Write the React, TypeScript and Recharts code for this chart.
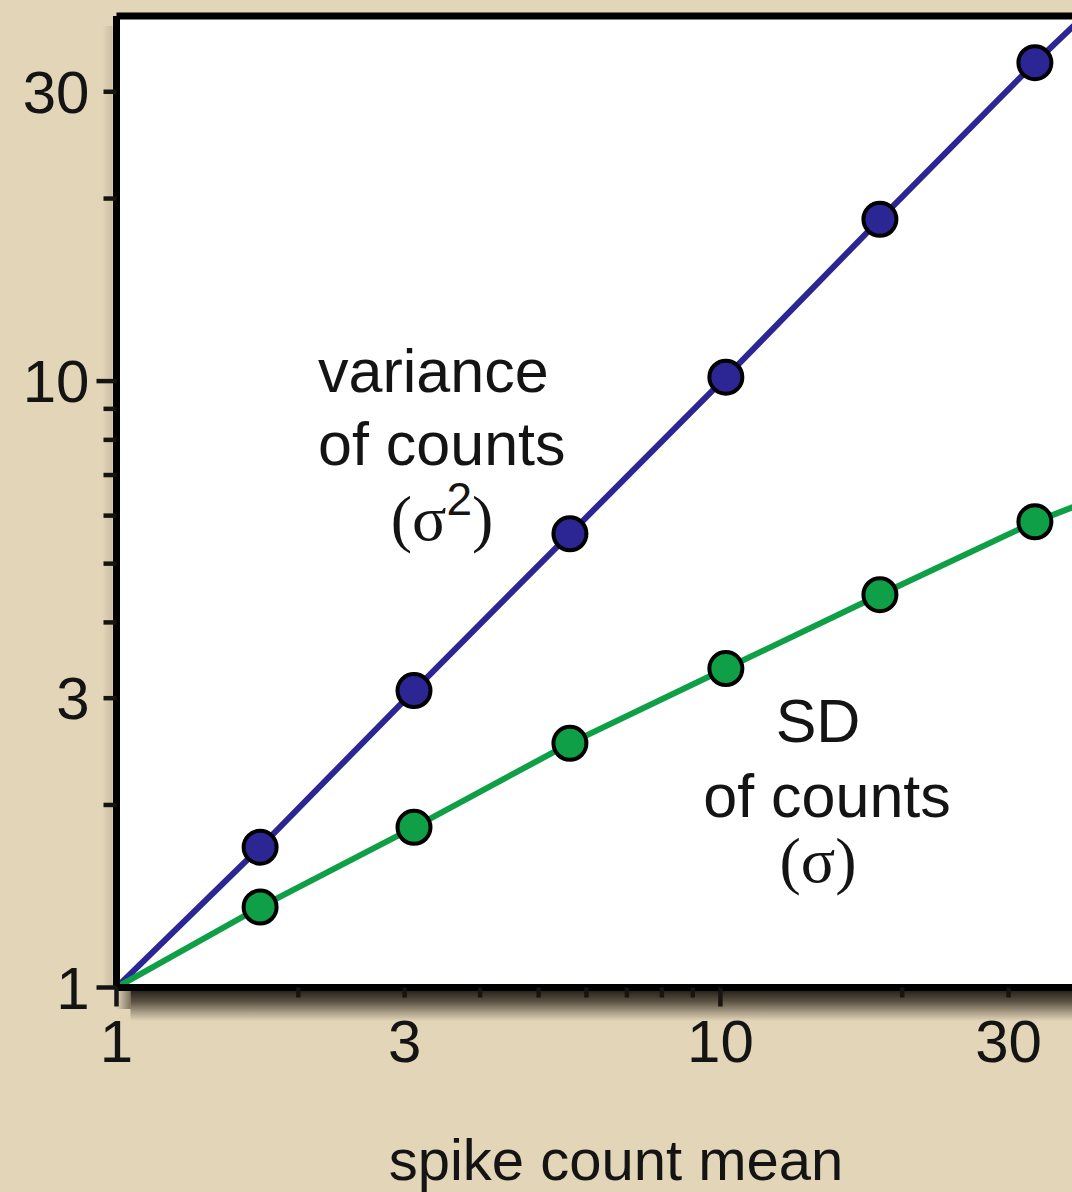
import React from 'react';
import { ComposedChart, Line, XAxis, YAxis, ReferenceArea, ReferenceLine } from 'recharts';

// ---- data (log-log axes) ----
const spikeMeans = [1.729, 3.109, 5.634, 10.21, 18.37, 33.17];
const varianceOfCounts = [1.703, 3.088, 5.6, 10.15, 18.48, 33.5];
const sdOfCounts = [1.357, 1.837, 2.527, 3.357, 4.444, 5.86];
// line anchors (lines start at the origin corner and run off the right edge)
const lineStart = { x: 1, variance: 1, sd: 1 };
const lineEnd = { x: 40, variance: 40, sd: 6.3 };

const xTicks = [1, 2, 3, 4, 5, 6, 7, 8, 9, 10, 20, 30];
const yTicks = [1, 2, 3, 4, 5, 6, 7, 8, 9, 10, 20, 30];
const labeledTicks = [1, 3, 10, 30];
const decadeTicks = [1, 10];
const xDomain = [1, 40];
const yDomain = [1, 40];

const data = [
  { ...lineStart, measured: false },
  ...spikeMeans.map((x, i) => ({ x, variance: varianceOfCounts[i], sd: sdOfCounts[i], measured: true })),
  { ...lineEnd, measured: false },
];

const SANS = '"Liberation Sans", Arial, Helvetica, sans-serif';
const SERIF = '"Liberation Serif", "Times New Roman", serif';
const INK = '#141414';
const BLUE = '#2b2694';
const GREEN = '#0e9f47';
const BG = '#e3d5b8';

const CHART_W = 1100;
const CHART_H = 1192;
const MARGIN = { top: 16, right: 16, bottom: 104.5, left: 16.5 };
const Y_AXIS_W = 100;
const X_AXIS_H = 100;

const YTick = (props: any) => {
  const { x, y, payload } = props;
  const v = payload.value;
  const len = decadeTicks.includes(v) ? 20 : 13;
  return (
    <g>
      <line x1={x} x2={x - len} y1={y} y2={y} stroke={INK} strokeWidth={4.5} />
      {labeledTicks.includes(v) && (
        <text x={x - 27} y={y + 21} textAnchor="end" fontSize={60} fontFamily={SANS} fill={INK}>
          {v}
        </text>
      )}
    </g>
  );
};

const XTick = (props: any) => {
  const { x, y, payload } = props;
  const v = payload.value;
  const len = decadeTicks.includes(v) ? 19 : 10;
  return (
    <g>
      <line x1={x} x2={x} y1={y} y2={y + len} stroke={INK} strokeWidth={4.5} />
      {labeledTicks.includes(v) && (
        <text x={x} y={y + 74} textAnchor="middle" fontSize={60} fontFamily={SANS} fill={INK}>
          {v}
        </text>
      )}
    </g>
  );
};

const makeDot = (fill: string) => (p: any) => {
  if (!p.payload || !p.payload.measured) return <g key={`d-${p.index}`} />;
  return (
    <circle key={`d-${p.index}`} cx={p.cx} cy={p.cy} r={16.5} fill={fill} stroke="#000" strokeWidth={4} />
  );
};

export default function App() {
  const plotLeft = MARGIN.left + Y_AXIS_W;
  const plotTop = MARGIN.top;
  const plotW = CHART_W - plotLeft - MARGIN.right;
  const plotH = CHART_H - MARGIN.top - MARGIN.bottom - X_AXIS_H;
  const plotBottom = plotTop + plotH;
  return (
    <div style={{ width: 1072, height: 1192, overflow: 'hidden', position: 'relative', background: BG }}>
      <style>{'body{margin:0}'}</style>
      <ComposedChart width={CHART_W} height={CHART_H} data={data} margin={MARGIN}>
        <ReferenceArea
          x1={xDomain[0]}
          x2={xDomain[1]}
          y1={yDomain[0]}
          y2={yDomain[1]}
          fill="#ffffff"
          fillOpacity={1}
          stroke="none"
        />
        <ReferenceLine y={yDomain[1]} stroke="#000" strokeWidth={7} />
        <XAxis
          dataKey="x"
          type="number"
          scale="log"
          domain={xDomain}
          ticks={xTicks}
          interval={0}
          allowDataOverflow
          height={X_AXIS_H}
          tickSize={0}
          tickMargin={0}
          tick={<XTick />}
          tickLine={false}
          axisLine={{ stroke: '#000', strokeWidth: 7 }}
        />
        <YAxis
          type="number"
          scale="log"
          domain={yDomain}
          ticks={yTicks}
          interval={0}
          allowDataOverflow
          width={Y_AXIS_W}
          tickSize={0}
          tickMargin={0}
          tick={<YTick />}
          tickLine={false}
          axisLine={{ stroke: '#000', strokeWidth: 7 }}
        />
        <Line
          dataKey="variance"
          type="linear"
          stroke={BLUE}
          strokeWidth={6}
          dot={makeDot(BLUE)}
          activeDot={false}
          isAnimationActive={false}
        />
        <Line
          dataKey="sd"
          type="linear"
          stroke={GREEN}
          strokeWidth={6}
          dot={makeDot(GREEN)}
          activeDot={false}
          isAnimationActive={false}
        />
      </ComposedChart>
      <svg
        width={1072}
        height={1192}
        style={{ position: 'absolute', left: 0, top: 0, pointerEvents: 'none' }}
      >
        <defs>
          <linearGradient id="shadowDown" x1="0" y1="0" x2="0" y2="1">
            <stop offset="0%" stopColor="#1a140c" stopOpacity={0.92} />
            <stop offset="35%" stopColor="#1a140c" stopOpacity={0.68} />
            <stop offset="70%" stopColor="#1a140c" stopOpacity={0.3} />
            <stop offset="100%" stopColor="#1a140c" stopOpacity={0} />
          </linearGradient>
          <linearGradient id="shadowCorner" x1="0" y1="0" x2="1" y2="0">
            <stop offset="0%" stopColor="#1a140c" stopOpacity={0} />
            <stop offset="100%" stopColor="#1a140c" stopOpacity={0.5} />
          </linearGradient>
          <linearGradient id="shadowLeft" x1="1" y1="0" x2="0" y2="0">
            <stop offset="0%" stopColor="#1a140c" stopOpacity={0.12} />
            <stop offset="100%" stopColor="#1a140c" stopOpacity={0} />
          </linearGradient>
        </defs>
        {/* drop shadow of the plot box */}
        <rect x={plotLeft + 14} y={plotBottom + 3.5} width={plotW} height={30} fill="url(#shadowDown)" />
        <rect x={plotLeft} y={plotBottom + 3.5} width={14} height={18} fill="url(#shadowCorner)" />
        <rect x={plotLeft - 14} y={plotTop + 10} width={10} height={plotH - 10} fill="url(#shadowLeft)" />
        <g fill={INK} fontFamily={SANS}>
          <text x={318} y={392} fontSize={61}>variance</text>
          <text x={318} y={465} fontSize={61}>of counts</text>
          <text x={442} y={540} textAnchor="middle">
            <tspan fontFamily={SERIF} fontSize={64}>(σ</tspan>
            <tspan fontSize={46} dy={-25}>2</tspan>
            <tspan fontFamily={SERIF} fontSize={64} dy={25}>)</tspan>
          </text>
          <text x={818} y={742} textAnchor="middle" fontSize={61}>SD</text>
          <text x={827} y={817} textAnchor="middle" fontSize={61}>of counts</text>
          <text x={818} y={882} textAnchor="middle" fontFamily={SERIF} fontSize={64}>(σ)</text>
          <text x={616} y={1180} textAnchor="middle" fontSize={58}>spike count mean</text>
        </g>
      </svg>
    </div>
  );
}
